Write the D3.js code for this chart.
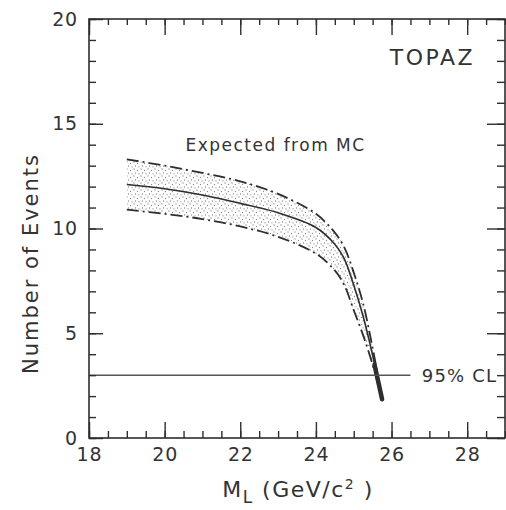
<!DOCTYPE html>
<html>
<head>
<meta charset="utf-8">
<script src="https://cdn.jsdelivr.net/npm/d3@7"></script>
<style>
  body { margin: 0; background: #fff; }
  text { font-family: "DejaVu Sans", "Liberation Sans", sans-serif; fill: #333; }
</style>
</head>
<body>
<div id="chart"></div>
<script>
// values
var massX   = [19, 20, 21, 22, 23, 24, 24.5, 24.75, 25, 25.25, 25.5, 25.75];
var central = [12.1, 11.9, 11.6, 11.2, 10.75, 10.05, 9.25, 8.55, 7.3, 5.8, 3.95, 1.85];
var upper   = [13.3, 13.0, 12.65, 12.25, 11.65, 10.7, 9.8, 9.1, 7.9, 6.4, 4.3, 1.9];
var lower   = [10.9, 10.7, 10.45, 10.1, 9.6, 8.8, 8.0, 7.3, 6.1, 4.9, 3.5, 1.85];
var tailX = [25.55, 25.75];
var tailY = [3.5, 1.85];
var clLevel = 3;
var clEndX = 26.5;
var xTicks = [18, 20, 22, 24, 26, 28];
var yTicks = [0, 5, 10, 15, 20];

var width = 506, height = 510;
var margin = {top: 19, right: 1, bottom: 72, left: 89};
var ink = "#2e2e2e";
var font = "'DejaVu Sans', 'Liberation Sans', sans-serif";

var svg = d3.select("#chart").append("svg")
              .attr("width", width)
              .attr("height", height);

var x = d3.scaleLinear().domain([18, 29]).range([margin.left, width - margin.right]);
var y = d3.scaleLinear().domain([0, 20]).range([height - margin.bottom, margin.top]);

// stipple pattern for the band
var defs = svg.append("defs");
var pat = defs.append("pattern")
              .attr("id", "dots")
              .attr("patternUnits", "userSpaceOnUse")
              .attr("width", 7).attr("height", 7);
[[1, 1], [4.5, 2.5], [2.5, 5], [6, 5.8]].forEach(function (p) {
  pat.append("circle").attr("cx", p[0]).attr("cy", p[1]).attr("r", 0.65).attr("fill", "#8a8a8a");
});

var band = massX.map(function (m, i) { return {x: m, lo: lower[i], hi: upper[i], c: central[i]}; });

var area = d3.area()
             .x(function (d) { return x(d.x); })
             .y0(function (d) { return y(d.lo); })
             .y1(function (d) { return y(d.hi); })
             .curve(d3.curveCatmullRom.alpha(0.5));

svg.append("path").datum(band)
   .attr("d", area)
   .attr("fill", "url(#dots)");

function curveLine(key) {
  return d3.line()
           .x(function (d) { return x(d.x); })
           .y(function (d) { return y(d[key]); })
           .curve(d3.curveCatmullRom.alpha(0.5));
}

svg.append("path").datum(band)
   .attr("d", curveLine("c"))
   .attr("fill", "none").attr("stroke", ink).attr("stroke-width", 1.6);

["hi", "lo"].forEach(function (k) {
  svg.append("path").datum(band)
     .attr("d", curveLine(k))
     .attr("fill", "none").attr("stroke", ink).attr("stroke-width", 1.8)
     .style("stroke-dasharray", "12, 4, 2, 4");
});

// converged tail
svg.append("line")
   .attr("x1", x(tailX[0])).attr("y1", y(tailY[0]))
   .attr("x2", x(tailX[1])).attr("y2", y(tailY[1]))
   .attr("stroke", ink).attr("stroke-width", 4.5).attr("stroke-linecap", "round");

// 95% CL line
svg.append("line")
   .attr("x1", x(18)).attr("y1", y(clLevel))
   .attr("x2", x(clEndX)).attr("y2", y(clLevel))
   .attr("stroke", "#555").attr("stroke-width", 1.5);

svg.append("text")
   .attr("x", x(26.8)).attr("y", y(clLevel) + 7)
   .attr("font-size", 18).attr("letter-spacing", 1.2)
   .text("95% CL");

// axes: majors and minors on all four sides, ticks pointing in
function styleAxis(g) {
  g.select(".domain").remove();
  g.selectAll(".tick line").attr("stroke", ink).attr("stroke-width", 1.4);
  g.selectAll(".tick text").attr("font-size", 19).attr("fill", "#333")
   .attr("letter-spacing", 0.8)
   .style("font-family", font);
}

var xMinor = d3.range(18, 29.01, 0.5);
var yMinor = d3.range(0, 20.01, 1);

svg.append("g").attr("transform", "translate(0," + y(0) + ")")
   .call(d3.axisBottom(x).tickValues(xMinor).tickSize(-7).tickFormat("")).call(styleAxis);
svg.append("g").attr("transform", "translate(0," + y(0) + ")")
   .call(d3.axisBottom(x).tickValues(xTicks).tickSize(-16).tickPadding(10).tickFormat(d3.format("d"))).call(styleAxis);
svg.append("g").attr("transform", "translate(0," + y(20) + ")")
   .call(d3.axisTop(x).tickValues(xMinor).tickSize(-6).tickFormat("")).call(styleAxis);
svg.append("g").attr("transform", "translate(0," + y(20) + ")")
   .call(d3.axisTop(x).tickValues(xTicks).tickSize(-16).tickFormat("")).call(styleAxis);

svg.append("g").attr("transform", "translate(" + x(18) + ",0)")
   .call(d3.axisLeft(y).tickValues(yMinor).tickSize(-7).tickFormat("")).call(styleAxis);
svg.append("g").attr("transform", "translate(" + x(18) + ",0)")
   .call(d3.axisLeft(y).tickValues(yTicks).tickSize(-14).tickPadding(11).tickFormat(d3.format("d"))).call(styleAxis);
svg.append("g").attr("transform", "translate(" + x(29) + ",0)")
   .call(d3.axisRight(y).tickValues(yMinor).tickSize(-8).tickFormat("")).call(styleAxis);
svg.append("g").attr("transform", "translate(" + x(29) + ",0)")
   .call(d3.axisRight(y).tickValues(yTicks).tickSize(-18).tickFormat("")).call(styleAxis);

// frame
svg.append("rect")
   .attr("x", x(18)).attr("y", y(20))
   .attr("width", x(29) - x(18)).attr("height", y(0) - y(20))
   .attr("fill", "none").attr("stroke", ink).attr("stroke-width", 1.6);

// labels
svg.append("text")
   .attr("x", x(28.21)).attr("y", y(17.8))
   .attr("text-anchor", "end").attr("font-size", 22).attr("letter-spacing", 2.5)
   .text("TOPAZ");

svg.append("text")
   .attr("x", x(20.55)).attr("y", y(13.7))
   .attr("font-size", 17).attr("letter-spacing", 1.5)
   .text("Expected from MC");

svg.append("text")
   .attr("transform", "translate(38," + ((y(0) + y(20)) / 2 + 35) + ") rotate(-90)")
   .attr("text-anchor", "middle").attr("font-size", 21).attr("letter-spacing", 2)
   .text("Number of Events");

var xt = svg.append("text")
   .attr("x", 298).attr("y", 497)
   .attr("text-anchor", "middle").attr("font-size", 22).attr("letter-spacing", 1.5);
xt.append("tspan").text("M");
xt.append("tspan").attr("dy", 6).attr("font-size", 17).text("L");
xt.append("tspan").attr("dy", -6).text("  (GeV/c");
xt.append("tspan").attr("dy", -8).attr("font-size", 14).text("2");
xt.append("tspan").attr("dy", 8).text(" )");
</script>
</body>
</html>
